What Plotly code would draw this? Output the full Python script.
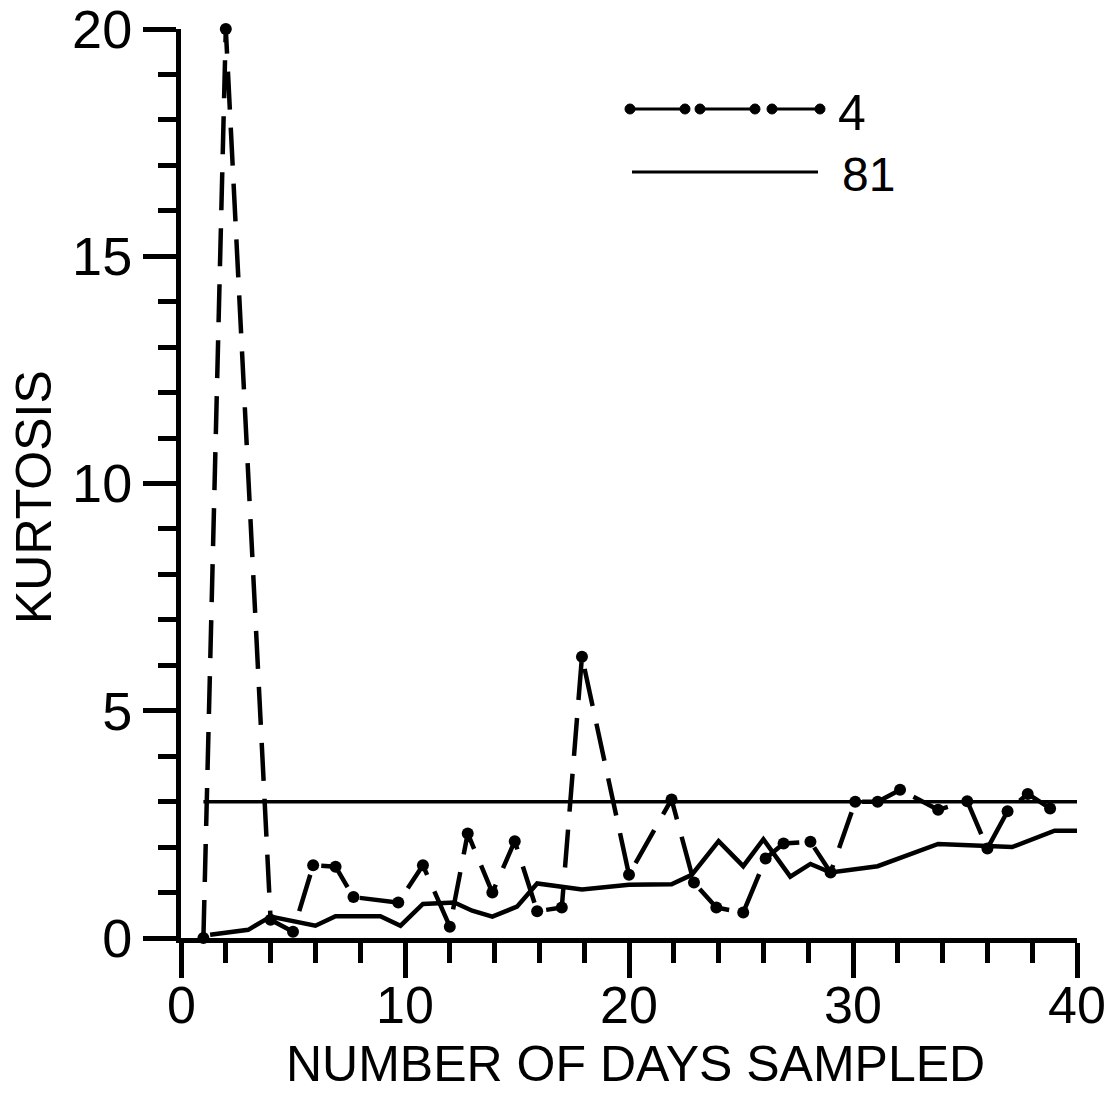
import plotly.graph_objects as go

# Kurtosis versus number of days sampled, for samples "4" and "81"
days_4 = [1, 2, 4, 5, 5.9, 6.9, 7.7, 9.7, 10.8, 12, 12.8, 13.9, 14.9, 15.9, 17,
          17.9, 20, 21.9, 22.9, 23.9, 25.1, 26.1, 26.9, 28.1, 29, 30.1, 31.1,
          32.1, 33.8, 35.1, 36, 36.9, 37.8, 38.8]
kurt_4 = [0, 20, 0.4, 0.14, 1.6, 1.57, 0.9, 0.78, 1.6, 0.25, 2.3, 1.0, 2.13, 0.59,
          0.67, 6.19, 1.39, 3.05, 1.22, 0.67, 0.56, 1.75, 2.08, 2.12, 1.44, 3.0,
          3.0, 3.26, 2.82, 3.01, 1.97, 2.79, 3.17, 2.85]

days_81 = [1.3, 3, 4, 5, 6, 6.9, 8.9, 9.8, 10.8, 12.2, 13, 13.9, 15, 15.9, 17.9,
           20, 21.9, 22.8, 24, 25.1, 26, 27.2, 28.1, 29, 31.1, 33.8, 37.1, 39, 40]
kurt_81 = [0.07, 0.18, 0.47, 0.38, 0.27, 0.48, 0.48, 0.27, 0.75, 0.78, 0.6, 0.47,
           0.69, 1.2, 1.07, 1.17, 1.18, 1.39, 2.13, 1.58, 2.17, 1.35, 1.63, 1.44,
           1.58, 2.07, 2.0, 2.36, 2.36]

# kurtosis of the normal distribution
normal_days = [1, 40]
normal_kurt = [3, 3]

x_ticks = [0, 10, 20, 30, 40]
y_ticks = [0, 5, 10, 15, 20]

FONT = "Liberation Sans, Arial, sans-serif"
W, H = 1112, 1098
L, R, T, B = 181, 35, 29, 160

fig = go.Figure()

fig.add_trace(go.Scatter(
    x=normal_days, y=normal_kurt, mode="lines",
    line=dict(color="black", width=3.5), showlegend=False, hoverinfo="skip"))

fig.add_trace(go.Scatter(
    x=days_81, y=kurt_81, mode="lines", name="81",
    line=dict(color="black", width=4.5), showlegend=False))

fig.add_trace(go.Scatter(
    x=days_4, y=kurt_4, mode="lines+markers", name="4",
    line=dict(color="black", width=4.5, dash="38px,18px"),
    marker=dict(color="black", size=12), cliponaxis=False, showlegend=False))


def px_x(p):
    return (p - L) / (W - L - R)


def px_y(p):
    return (H - B - p) / (H - T - B)


shapes = []
# key for "4": short solid segments joined by dots
seg_pairs = [(630, 685), (700, 755), (772, 820)]
for a, b in seg_pairs:
    shapes.append(dict(type="line", xref="paper", yref="paper",
                       x0=px_x(a), x1=px_x(b), y0=px_y(109), y1=px_y(109),
                       line=dict(color="black", width=3)))
    for c in (a, b):
        shapes.append(dict(type="circle", xref="paper", yref="paper",
                           x0=px_x(c - 5), x1=px_x(c + 5),
                           y0=px_y(114), y1=px_y(104),
                           fillcolor="black", line=dict(color="black", width=1)))
# key for "81"
shapes.append(dict(type="line", xref="paper", yref="paper",
                   x0=px_x(632), x1=px_x(818), y0=px_y(172), y1=px_y(172),
                   line=dict(color="black", width=3)))

annotations = [
    dict(text="4", xref="paper", yref="paper", x=px_x(836), y=px_y(113),
         xanchor="left", yanchor="middle", showarrow=False,
         font=dict(family=FONT, size=50, color="black")),
    dict(text="81", xref="paper", yref="paper", x=px_x(840), y=px_y(174),
         xanchor="left", yanchor="middle", showarrow=False,
         font=dict(family=FONT, size=48, color="black")),
    # axis titles
    dict(text="NUMBER OF DAYS SAMPLED", xref="paper", yref="paper",
         x=px_x(635), y=px_y(1064), xanchor="center", yanchor="middle",
         showarrow=False, font=dict(family=FONT, size=50, color="black")),
    dict(text="KURTOSIS", xref="paper", yref="paper", textangle=-90,
         x=px_x(34), y=px_y(497), xanchor="center", yanchor="middle",
         showarrow=False, font=dict(family=FONT, size=50, color="black")),
]
# x tick labels below the long ticks
for v in x_ticks:
    annotations.append(dict(
        text=str(v), xref="x", yref="paper", x=v, y=px_y(1005),
        xanchor="center", yanchor="middle", showarrow=False,
        font=dict(family=FONT, size=52, color="black")))

fig.update_layout(
    width=W, height=H,
    margin=dict(l=L, r=R, t=T, b=B, autoexpand=False),
    paper_bgcolor="white", plot_bgcolor="white",
    font=dict(family=FONT, color="black"),
    shapes=shapes, annotations=annotations,
    xaxis=dict(
        range=[0, 40], tickvals=x_ticks, showticklabels=False,
        automargin=False,
        showline=True, linecolor="black", linewidth=5,
        ticks="outside", ticklen=35, tickwidth=5, tickcolor="black",
        minor=dict(dtick=2, tick0=0, ticks="outside", ticklen=20, tickwidth=5,
                   tickcolor="black"),
        showgrid=False, zeroline=False,
    ),
    yaxis=dict(
        range=[0, 20], tickvals=y_ticks, ticktext=[str(v) for v in y_ticks],
        automargin=False, ticklabeloverflow="allow",
        showline=True, linecolor="black", linewidth=5,
        ticks="outside", ticklen=33, tickwidth=5, tickcolor="black",
        minor=dict(dtick=1, tick0=0, ticks="outside", ticklen=18, tickwidth=5,
                   tickcolor="black"),
        showgrid=False, zeroline=False,
        tickfont=dict(family=FONT, size=54, color="black"),
    ),
)

fig.write_html("out.html")
